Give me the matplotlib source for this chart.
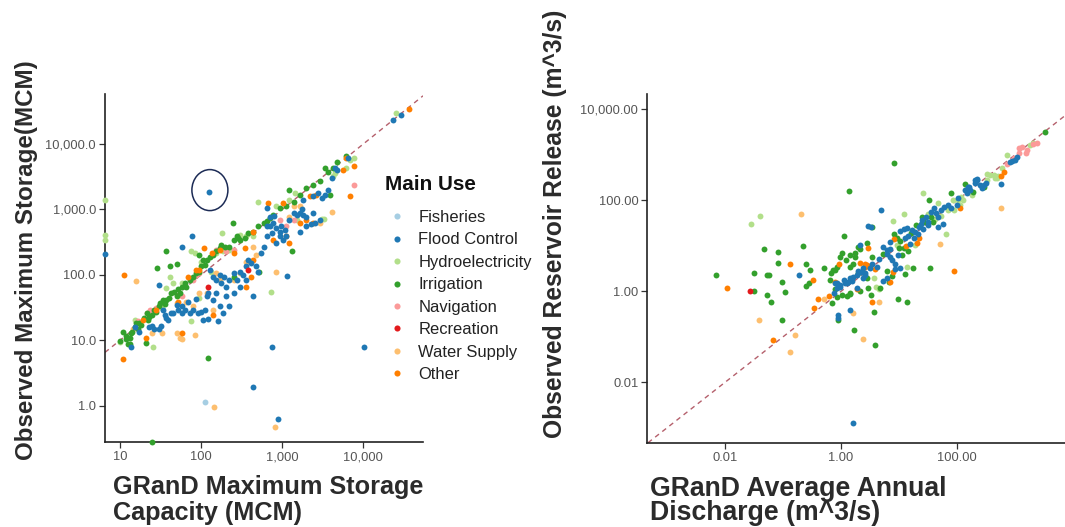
import numpy as np
import matplotlib
matplotlib.use("Agg")
import matplotlib.pyplot as plt
from matplotlib.patches import Ellipse
from matplotlib.transforms import ScaledTranslation
from matplotlib.lines import Line2D
from matplotlib.ticker import NullLocator

plt.rcParams['font.family'] = ['Liberation Sans', 'DejaVu Sans']

# ---------------- categories / colours ----------------
categories = ["Fisheries", "Flood Control", "Hydroelectricity", "Irrigation",
              "Navigation", "Recreation", "Water Supply", "Other"]
colors = ["#a6cee3", "#1f78b4", "#b2df8a", "#33a02c",
          "#fb9a99", "#e31a1c", "#fdbf6f", "#ff7f00"]

# ---------------- LEFT panel data: (log10 GRanD capacity MCM, log10 observed max storage MCM) ----
stor_fisheries = [(2.05, 0.05)]
stor_flood = [
    (2.10, 3.27), (2.87, 0.90), (4.01, 0.90), (2.64, 0.28), (2.95, -0.21), (1.76, 2.43), (1.89, 2.60),
    (3.06, 1.99), (2.81, 3.02), (0.82, 2.32), (4.37, 4.36), (4.46, 4.45), (1.48, 1.85),
    (1.13, 0.89), (1.18, 1.20), (1.24, 1.13), (1.36, 1.21), (1.40, 1.22), (1.42, 1.18), (1.51, 1.22),
    (1.57, 1.34), (1.55, 1.39), (1.48, 1.18),
    (1.53, 1.46), (1.59, 1.31), (1.63, 1.41), (1.65, 1.41), (1.72, 1.46), (1.76, 1.52), (1.80, 1.46),
    (1.84, 1.59), (1.86, 1.41), (1.90, 1.46), (1.96, 1.41), (2.00, 1.44), (2.05, 1.46), (2.07, 1.67),
    (2.09, 1.72), (2.15, 1.62), (2.02, 1.31), (2.09, 1.32), (2.21, 1.30), (1.76, 1.41),
    (2.11, 2.08), (2.15, 1.97), (2.19, 1.92), (2.23, 2.00), (2.25, 1.87), (2.31, 1.82), (2.35, 1.92),
    (2.40, 2.03), (2.44, 1.92), (2.48, 2.05), (2.56, 2.13), (2.58, 2.23), (2.62, 2.18), (2.68, 2.13),
    (2.70, 2.05), (2.40, 1.72), (2.31, 1.67), (2.27, 1.41), (2.23, 1.52), (2.19, 1.72), (2.35, 1.52),
    (2.48, 1.82), (2.56, 1.92), (2.64, 1.67), (2.74, 2.33), (2.77, 2.43), (2.81, 2.59), (2.85, 2.74),
    (2.89, 2.79), (2.93, 2.71), (2.97, 2.66), (2.87, 2.64), (2.81, 2.74),
    (2.85, 2.89), (2.99, 2.74), (3.03, 2.69), (3.09, 2.84), (3.14, 2.94), (3.18, 2.92), (3.22, 2.94),
    (3.24, 3.00), (3.26, 2.92), (3.30, 2.89), (3.38, 3.20), (3.44, 3.25), (3.49, 3.17), (3.53, 3.22),
    (3.57, 3.30), (3.61, 3.48), (3.65, 3.63), (3.68, 3.61), (3.81, 3.79), (2.93, 2.48), (2.97, 2.59),
    (3.01, 2.54), (3.05, 2.59), (3.22, 2.66), (3.30, 2.74), (3.36, 2.78), (3.40, 2.79), (3.47, 2.84),
    (3.38, 2.94), (3.26, 3.15), (1.70, 1.54), (1.94, 1.63), (2.28, 1.96), (2.52, 2.00), (2.90, 2.90)]
stor_hydro = [
    (0.82, 3.15), (0.82, 2.61), (0.82, 2.54), (4.40, 4.48), (2.70, 3.12), (2.86, 1.74), (3.49, 2.85),
    (1.62, 1.97), (1.41, 0.89), (1.19, 1.31), (1.00, 0.98), (1.65, 1.87), (1.76, 1.87), (1.57, 1.80),
    (1.88, 2.36), (1.92, 2.33), (2.00, 2.20), (1.88, 1.29), (1.98, 1.64), (2.19, 2.33), (2.27, 2.36),
    (2.35, 2.38), (2.48, 2.61), (2.56, 2.59), (2.64, 2.59), (2.93, 3.05), (3.09, 3.15), (3.16, 3.25),
    (3.63, 3.51), (3.65, 3.56), (3.79, 3.63), (3.84, 3.76), (3.88, 3.79), (3.18, 2.84), (3.51, 2.85),
    (2.26, 2.64), (1.52, 1.50), (2.12, 2.05)]
stor_irrigation = [
    (2.09, 0.73), (1.39, -0.55), (1.46, 2.10), (1.57, 2.37), (1.62, 2.13), (1.70, 2.16), (2.39, 2.80),
    (2.45, 2.56), (3.12, 2.37),
    (1.00, 0.99), (1.04, 1.12), (1.07, 1.06), (1.10, 0.95), (1.12, 1.03), (1.13, 1.11), (1.15, 1.13),
    (1.18, 1.21), (1.20, 1.26), (1.23, 1.27), (1.26, 1.23), (1.29, 1.34), (1.33, 1.41), (1.35, 1.31),
    (1.39, 1.39), (1.42, 1.46), (1.45, 1.44), (1.48, 1.52), (1.32, 0.96), (1.12, 0.95),
    (1.49, 1.57), (1.53, 1.62), (1.57, 1.62), (1.61, 1.64), (1.63, 1.72), (1.67, 1.74), (1.70, 1.67),
    (1.74, 1.72), (1.76, 1.82), (1.80, 1.87), (1.82, 1.82), (1.86, 1.92), (1.90, 1.97), (1.94, 2.03),
    (1.98, 2.05), (2.00, 2.13), (2.05, 2.15), (2.02, 2.23), (1.98, 2.31),
    (2.07, 2.23), (2.11, 2.28), (2.15, 2.31), (2.18, 2.36), (2.23, 2.41), (2.25, 2.46), (2.29, 2.43),
    (2.35, 2.43), (2.40, 2.54), (2.44, 2.59), (2.48, 2.54), (2.54, 2.56), (2.58, 2.64), (2.64, 2.66),
    (2.70, 2.74), (2.77, 2.79), (2.81, 2.82), (2.85, 2.87), (2.40, 1.97), (2.72, 2.04),
    (2.89, 2.92), (2.97, 3.02), (3.05, 3.05), (3.09, 3.30), (3.14, 3.12), (3.22, 3.22), (3.30, 3.33),
    (3.38, 3.38), (3.47, 3.43), (3.53, 3.63), (3.57, 3.58), (3.63, 3.63), (3.68, 3.73), (3.79, 3.81),
    (3.59, 3.22), (1.08, 1.02), (1.22, 1.18), (1.36, 1.36), (1.55, 1.55), (1.72, 1.78)]
stor_navigation = [
    (3.88, 3.37), (1.37, 1.46), (1.33, 1.41), (1.45, 1.49), (1.90, 1.92), (1.94, 2.00), (1.98, 2.03),
    (1.76, 1.67), (2.19, 2.38), (2.31, 2.36), (2.40, 2.38), (2.97, 2.84), (3.14, 2.84), (3.05, 2.74),
    (1.22, 1.29)]
stor_recreation = [(2.58, 2.08), (2.08, 1.82)]
stor_water = [
    (2.91, -0.32), (2.16, -0.02), (2.93, 2.04), (1.20, 1.91), (3.61, 2.96), (1.52, 1.11), (1.70, 1.11),
    (1.74, 1.03), (1.76, 1.02), (1.92, 1.08), (1.70, 1.57), (1.82, 1.59), (1.90, 1.52), (1.98, 1.72),
    (2.07, 1.72), (2.15, 1.46), (2.19, 2.03), (2.23, 1.92), (2.40, 1.92), (2.48, 2.03), (2.56, 2.20),
    (2.68, 2.31), (2.64, 2.43), (3.09, 2.89), (3.14, 3.05), (3.22, 3.05), (3.47, 2.79), (1.16, 1.18),
    (1.39, 1.11)]
stor_other = [
    (1.04, 0.71), (1.05, 2.00), (2.83, 3.10), (3.84, 3.21), (3.89, 3.67), (4.56, 4.54), (1.28, 1.31),
    (1.32, 1.04), (1.44, 1.46), (1.77, 1.11), (1.72, 1.59), (1.84, 1.97), (1.98, 2.08), (2.03, 2.41),
    (1.94, 2.08), (2.13, 2.33), (2.23, 2.38), (2.40, 2.33), (2.54, 2.41), (2.64, 2.23), (3.01, 3.10),
    (3.34, 3.20), (3.42, 3.22), (3.75, 3.61), (3.79, 3.79), (2.89, 2.54), (3.05, 2.59), (3.09, 2.48),
    (3.22, 2.79), (3.38, 2.79), (3.30, 2.84), (2.64, 2.66), (2.15, 1.39), (2.56, 1.82), (2.62, 1.97)]

# ---------------- RIGHT panel data: (log10 GRanD avg discharge, log10 observed release) ----
rel_flood = [
    (-0.73, 0.36), (0.68, 1.79), (-0.05, -0.53), (0.15, -0.41), (0.20, -2.89), (2.76, 2.36), (2.92, 2.84),
    (2.99, 2.89), (2.95, 2.86), (3.03, 2.96), (0.47, 1.44), (0.52, 1.42), (0.33, 1.02),
    (-0.07, 0.18), (-0.02, 0.13), (0.06, 0.18), (0.12, 0.21), (0.18, 0.23), (-0.05, -0.59),
    (0.36, 0.43), (0.41, 0.36), (0.38, 0.29), (0.50, 0.51), (0.73, 0.23), (0.79, 0.30), (0.93, 0.49),
    (1.02, 0.52), (0.28, 0.08), (0.53, 0.61), (0.62, 0.54), (0.73, 0.98), (0.79, 0.91), (0.85, 0.94),
    (0.85, 1.09), (0.79, 0.83), (0.85, 0.76), (0.88, 0.69), (0.93, 0.61),
    (1.02, 1.32), (1.08, 1.36), (1.13, 1.39), (1.11, 1.17), (1.16, 1.21),
    (1.22, 1.35), (1.28, 1.31), (1.34, 1.42), (1.37, 1.49), (1.40, 1.57), (1.46, 1.64), (1.49, 1.53),
    (1.55, 1.75), (1.61, 1.82), (1.64, 1.71), (1.67, 1.64), (1.73, 1.79), (1.78, 1.86), (1.84, 1.90),
    (1.90, 1.82), (1.49, 1.46), (1.67, 1.42), (1.76, 1.49), (1.99, 1.90), (2.02, 2.05),
    (2.14, 2.23), (2.18, 2.29), (2.31, 2.45), (2.34, 2.45), (2.40, 2.34), (2.43, 2.26), (2.34, 2.46),
    (2.31, 2.37), (2.20, 2.30), (2.23, 2.23), (2.17, 2.15), (2.46, 2.34), (2.49, 2.39),
    (-0.10, 0.18), (-0.13, -0.04), (-0.07, 0.07), (-0.02, 0.10), (0.05, 0.25), (0.10, 0.18), (0.16, 0.29),
    (0.21, 0.32), (0.27, 0.36), (0.30, 0.45), (0.34, 0.43), (0.37, 0.51), (0.41, 0.40),
    (1.25, 1.18), (1.32, 1.25), (1.18, 1.05), (1.42, 1.38), (0.65, 0.70), (0.98, 0.80)]
rel_hydro = [
    (-1.56, 1.47), (-1.39, 1.65), (1.81, 1.25), (1.41, 2.15), (1.08, 1.69), (0.89, 1.55), (2.66, 2.48),
    (2.52, 2.58), (2.86, 3.00), (3.26, 3.22), (3.31, 3.25), (2.70, 2.53), (2.78, 2.70), (0.57, 0.29),
    (0.66, 0.04), (1.13, 0.54), (0.96, 1.02), (1.28, 1.02), (1.67, 1.93), (1.84, 1.79), (1.93, 2.01),
    (2.02, 2.01), (2.07, 2.08), (2.05, 1.90), (2.52, 2.45), (2.57, 2.56), (2.63, 2.56), (2.69, 2.48),
    (0.60, 0.10), (1.50, 1.70), (1.62, 1.58), (1.72, 1.65), (1.95, 1.78), (2.10, 2.00), (2.25, 2.12)]
rel_irrigation = [
    (-2.16, 0.35), (-1.50, 0.01), (-1.50, 0.41), (-1.33, 0.94), (-1.27, 0.35), (-1.28, -0.09),
    (-1.21, -0.23), (-1.08, 0.86), (-1.09, 0.62), (-1.01, 0.20), (-0.96, -0.01), (-1.01, -0.62),
    (-0.65, 1.00), (-0.60, 0.59), (-0.54, 0.47), (-0.60, 0.12), (-0.55, 0.18), (-0.29, 0.52),
    (-0.18, 0.40), (-0.16, -0.26), (-0.07, -0.12), (-0.02, 0.76), (0.05, 1.22), (0.13, 2.21),
    (0.92, 2.83), (-0.05, -0.63), (0.23, -0.84), (0.58, -1.19), (0.57, -0.46), (0.98, -0.18),
    (1.13, -0.23), (1.54, 0.51), (1.11, 0.37), (0.54, 1.41), (3.51, 3.49), (-1.24, 0.36),
    (-0.10, 0.47), (0.01, -0.08), (0.10, -0.10), (0.16, -0.04), (-0.11, 0.05), (1.24, 0.51),
    (0.30, 0.40), (0.44, 0.29), (0.47, 0.08), (0.33, 0.01), (0.16, -0.07), (0.51, -0.09), (0.82, 0.21),
    (0.88, 0.33), (0.79, 0.45), (0.67, 0.07), (0.16, 0.80), (0.21, 0.61), (0.24, 0.76), (0.53, 0.76),
    (0.73, 0.83), (0.91, 1.25), (0.96, 1.17), (1.02, 1.10), (0.99, 0.95), (1.08, 0.95), (1.40, 1.64),
    (1.43, 1.53), (1.55, 1.64), (1.58, 1.53), (1.52, 2.01), (1.90, 2.15), (2.14, 2.36), (2.46, 2.30),
    (2.28, 2.19), (-0.19, 0.25), (-0.14, 0.47), (-0.07, 0.54), (0.01, 0.84), (0.09, 0.69), (0.16, 0.54),
    (0.24, 0.84), (0.30, 0.98), (0.44, 1.06), (0.33, 0.92),
    (1.20, 1.28), (1.30, 1.45), (1.05, 0.80), (1.15, 0.88)]
rel_navigation = [
    (2.86, 2.80), (2.98, 2.92), (3.06, 3.03), (3.12, 3.17), (3.18, 3.03), (3.20, 3.11), (3.31, 3.24),
    (3.37, 3.27), (3.07, 3.15)]
rel_recreation = [(-1.57, 0.01)]
rel_water = [
    (-1.42, -0.64), (-0.79, -0.96), (-0.88, -1.33), (-0.69, 1.69), (-0.29, -0.17), (0.20, -0.47),
    (0.37, -1.04), (0.65, -0.23), (2.76, 1.84), (1.71, 1.03)]
rel_other = [
    (-1.96, 0.07), (-0.88, 0.60), (-0.48, 0.25), (-0.46, -0.36), (-0.39, -0.17), (-0.20, -0.11),
    (-0.03, 0.60), (-1.18, -1.08), (0.53, -0.24), (1.95, 0.44), (2.80, 2.62), (2.76, 2.53), (0.41, 0.54),
    (0.58, 0.49), (0.90, 0.42), (0.84, 0.20), (0.27, 0.05), (-0.10, 0.21), (0.33, 0.62), (0.47, 0.95),
    (0.91, 1.14), (1.31, 1.06), (1.34, 1.17), (2.05, 1.82), (0.41, 0.61), (0.44, 0.58), (1.12, 1.00)]

left_series = [stor_fisheries, stor_flood, stor_hydro, stor_irrigation,
               stor_navigation, stor_recreation, stor_water, stor_other]
right_series = [[], rel_flood, rel_hydro, rel_irrigation,
                rel_navigation, rel_recreation, rel_water, rel_other]

left_xticks = [10, 100, 1000, 10000]
left_xlabels = ["10", "100", "1,000", "10,000"]
left_yticks = [1, 10, 100, 1000, 10000]
left_ylabels = ["1.0", "10.0", "100.0", "1,000.0", "10,000.0"]
right_xticks = [0.01, 1, 100]
right_xlabels = ["0.01", "1.00", "100.00"]
right_yticks = [0.01, 1, 100, 10000]
right_ylabels = ["0.01", "1.00", "100.00", "10,000.00"]

W, H = 1065, 527
fig = plt.figure(figsize=(W / 100, H / 100), dpi=100)
axL = fig.add_axes([105 / W, 1 - 442 / H, (423 - 105) / W, (442 - 94) / H])
axR = fig.add_axes([647.3 / W, 1 - 442.7 / H, (1065 - 647.3) / W, (442.7 - 94) / H])

draw_order = [0, 2, 6, 4, 3, 7, 1, 5]


def unpack(pairs):
    lx = np.array([p[0] for p in pairs])
    ly = np.array([p[1] for p in pairs])
    return 10 ** lx, 10 ** ly


for ax, series in ((axL, left_series), (axR, right_series)):
    for i in draw_order:
        if len(series[i]) == 0:
            continue
        x, y = unpack(series[i])
        ax.scatter(x, y, s=18, color=colors[i], linewidths=0, zorder=3, clip_on=False)
    ax.set_xscale('log')
    ax.set_yscale('log')
    ax.axline((1, 1), (10, 10), color='#b5606c', lw=1.0, ls=(0, (3.5, 3)), zorder=2)
    for s in ('top', 'right'):
        ax.spines[s].set_visible(False)
    for s in ('left', 'bottom'):
        ax.spines[s].set_color('#222222')
        ax.spines[s].set_linewidth(1.2)
    ax.tick_params(axis='both', which='major', length=4, width=0.9, color='#333333',
                   labelcolor='#555555', labelsize=9.3, pad=2.5)

axL.set_xlim(10 ** 0.815, 10 ** 4.737)
axL.set_ylim(10 ** -0.555, 10 ** 4.765)
axL.set_xticks(left_xticks, left_xlabels)
axL.set_yticks(left_yticks, left_ylabels)

axR.set_xlim(10 ** -3.34, 10 ** 3.86)
axR.set_ylim(10 ** -3.327, 10 ** 4.336)
axR.set_xticks(right_xticks, right_xlabels)
axR.set_yticks(right_yticks, right_ylabels)

for ax in (axL, axR):
    ax.xaxis.set_minor_locator(NullLocator())
    ax.yaxis.set_minor_locator(NullLocator())

# annotation ellipse around the outlying flood-control reservoir
cx, cy = 10 ** stor_flood[0][0], 10 ** stor_flood[0][1]
ell = Ellipse((0.007, 0.017), width=0.36, height=0.41, fill=False, edgecolor='#1c2b55', lw=1.1,
              transform=fig.dpi_scale_trans + ScaledTranslation(cx, cy, axL.transData))
axL.add_artist(ell)

# axis titles
title_kw = dict(fontweight='bold', color='#2b2b2b')
fig.text(27 / W, 1 - 260 / H, "Observed Maximum Storage(MCM)", rotation=90,
         ha='center', va='center', fontsize=17.4, **title_kw)
fig.text(555 / W, 1 - 224 / H, "Observed Reservoir Release (m^3/s)", rotation=90,
         ha='center', va='center', fontsize=17.7, **title_kw)
fig.text(113 / W, 1 - 494 / H, "GRanD Maximum Storage", ha='left', va='baseline', fontsize=18.2, **title_kw)
fig.text(113 / W, 1 - 520 / H, "Capacity (MCM)", ha='left', va='baseline', fontsize=18.2, **title_kw)
fig.text(650 / W, 1 - 496 / H, "GRanD Average Annual", ha='left', va='baseline', fontsize=19.2, **title_kw)
fig.text(650 / W, 1 - 520 / H, "Discharge (m^3/s)", ha='left', va='baseline', fontsize=19.2, **title_kw)

# legend
fig.text(385 / W, 1 - 185 / H, "Main Use", ha='left', va='center', fontsize=14.9,
         fontweight='bold', color='#111111')
handles = [Line2D([], [], marker='o', ls='', markersize=4.4, markeredgewidth=0,
                  markerfacecolor=c) for c in colors]
leg = fig.legend(handles, categories, loc='upper left', bbox_to_anchor=(385 / W, 1 - 210 / H),
                 frameon=False, fontsize=11.9,
                 borderpad=0, borderaxespad=0, handlelength=1.42, handletextpad=0.6,
                 labelspacing=0.45)
for t in leg.get_texts():
    t.set_color('#222222')

fig.savefig("out.png", dpi=100, facecolor='white')
